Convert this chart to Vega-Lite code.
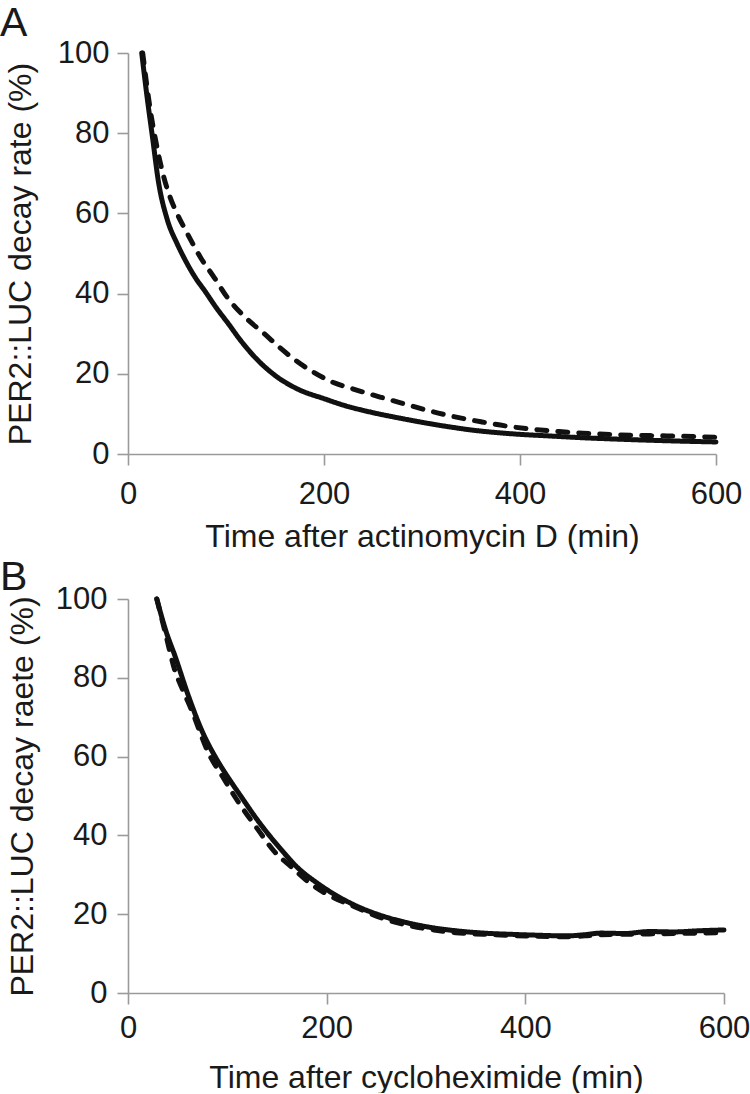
{
  "$schema": "https://vega.github.io/schema/vega-lite/v6.json",
  "padding": {"left": 0, "top": 3, "right": 0, "bottom": 0},
  "spacing": 5,
  "config": {
    "font": "Liberation Sans",
    "view": {"stroke": null},
    "axis": {
      "grid": false,
      "labelFlush": false,
      "domainColor": "#9a9a9a",
      "tickColor": "#9a9a9a",
      "domainWidth": 1.6,
      "tickWidth": 1.6,
      "tickSize": 11,
      "labelFontSize": 31,
      "titleFontSize": 32,
      "titleFontWeight": "normal",
      "labelColor": "#1a1a1a",
      "titleColor": "#1a1a1a"
    },
    "title": {"fontWeight": "normal", "color": "#1a1a1a"}
  },
  "datasets": {
    "panelA": [
      {"series": "Series 1", "t": 14, "v": 100},
      {"series": "Series 1", "t": 20, "v": 88},
      {"series": "Series 1", "t": 25, "v": 79},
      {"series": "Series 1", "t": 31, "v": 68},
      {"series": "Series 1", "t": 40, "v": 58.5},
      {"series": "Series 1", "t": 50, "v": 52.5},
      {"series": "Series 1", "t": 57, "v": 49},
      {"series": "Series 1", "t": 70, "v": 43.5},
      {"series": "Series 1", "t": 78, "v": 40.8},
      {"series": "Series 1", "t": 90, "v": 36.5},
      {"series": "Series 1", "t": 103, "v": 32.3},
      {"series": "Series 1", "t": 114, "v": 28.6},
      {"series": "Series 1", "t": 130, "v": 24},
      {"series": "Series 1", "t": 150, "v": 19.6},
      {"series": "Series 1", "t": 173, "v": 16.2},
      {"series": "Series 1", "t": 200, "v": 13.8},
      {"series": "Series 1", "t": 225, "v": 11.8},
      {"series": "Series 1", "t": 250, "v": 10.3},
      {"series": "Series 1", "t": 276, "v": 9},
      {"series": "Series 1", "t": 300, "v": 7.9},
      {"series": "Series 1", "t": 327, "v": 6.8},
      {"series": "Series 1", "t": 350, "v": 6},
      {"series": "Series 1", "t": 378, "v": 5.3},
      {"series": "Series 1", "t": 400, "v": 4.9},
      {"series": "Series 1", "t": 430, "v": 4.5},
      {"series": "Series 1", "t": 460, "v": 4.1},
      {"series": "Series 1", "t": 500, "v": 3.7},
      {"series": "Series 1", "t": 550, "v": 3.3},
      {"series": "Series 1", "t": 600, "v": 3.0},
      {"series": "Series 2", "t": 15, "v": 100},
      {"series": "Series 2", "t": 22.6, "v": 86},
      {"series": "Series 2", "t": 30, "v": 76},
      {"series": "Series 2", "t": 36.6, "v": 69},
      {"series": "Series 2", "t": 43, "v": 64},
      {"series": "Series 2", "t": 50, "v": 60},
      {"series": "Series 2", "t": 60.5, "v": 55},
      {"series": "Series 2", "t": 74, "v": 49},
      {"series": "Series 2", "t": 88, "v": 44},
      {"series": "Series 2", "t": 101.5, "v": 39},
      {"series": "Series 2", "t": 120, "v": 34},
      {"series": "Series 2", "t": 139, "v": 30},
      {"series": "Series 2", "t": 155, "v": 26.5},
      {"series": "Series 2", "t": 173, "v": 23},
      {"series": "Series 2", "t": 190, "v": 20.3},
      {"series": "Series 2", "t": 207, "v": 18.1},
      {"series": "Series 2", "t": 230, "v": 16.2},
      {"series": "Series 2", "t": 258.7, "v": 14.1},
      {"series": "Series 2", "t": 285, "v": 12.3},
      {"series": "Series 2", "t": 310, "v": 10.6},
      {"series": "Series 2", "t": 335, "v": 9.2},
      {"series": "Series 2", "t": 361, "v": 8},
      {"series": "Series 2", "t": 385, "v": 7},
      {"series": "Series 2", "t": 412, "v": 6.2},
      {"series": "Series 2", "t": 440, "v": 5.6},
      {"series": "Series 2", "t": 464, "v": 5.2},
      {"series": "Series 2", "t": 498, "v": 4.8},
      {"series": "Series 2", "t": 550, "v": 4.5},
      {"series": "Series 2", "t": 600, "v": 4.2}
    ],
    "panelB": [
      {"series": "Series 1", "t": 29, "v": 100},
      {"series": "Series 1", "t": 38, "v": 92},
      {"series": "Series 1", "t": 47.5, "v": 85.4},
      {"series": "Series 1", "t": 60, "v": 76},
      {"series": "Series 1", "t": 74, "v": 66.8},
      {"series": "Series 1", "t": 90, "v": 59},
      {"series": "Series 1", "t": 100, "v": 55},
      {"series": "Series 1", "t": 114, "v": 49.8},
      {"series": "Series 1", "t": 130, "v": 44},
      {"series": "Series 1", "t": 154.5, "v": 36.3},
      {"series": "Series 1", "t": 170, "v": 32},
      {"series": "Series 1", "t": 191, "v": 27.8},
      {"series": "Series 1", "t": 208, "v": 25},
      {"series": "Series 1", "t": 231.5, "v": 21.9},
      {"series": "Series 1", "t": 258, "v": 19.4},
      {"series": "Series 1", "t": 285, "v": 17.6},
      {"series": "Series 1", "t": 308, "v": 16.5},
      {"series": "Series 1", "t": 330, "v": 15.8},
      {"series": "Series 1", "t": 358, "v": 15.2},
      {"series": "Series 1", "t": 385, "v": 14.9},
      {"series": "Series 1", "t": 408, "v": 14.7},
      {"series": "Series 1", "t": 442, "v": 14.5},
      {"series": "Series 1", "t": 460, "v": 14.8},
      {"series": "Series 1", "t": 476, "v": 15.2},
      {"series": "Series 1", "t": 500, "v": 15.1},
      {"series": "Series 1", "t": 525, "v": 15.6},
      {"series": "Series 1", "t": 550, "v": 15.5},
      {"series": "Series 1", "t": 575, "v": 15.8},
      {"series": "Series 1", "t": 600, "v": 16},
      {"series": "Series 2", "t": 29, "v": 100},
      {"series": "Series 2", "t": 38, "v": 91},
      {"series": "Series 2", "t": 47, "v": 82},
      {"series": "Series 2", "t": 55, "v": 77},
      {"series": "Series 2", "t": 64, "v": 71.8},
      {"series": "Series 2", "t": 81, "v": 60.9},
      {"series": "Series 2", "t": 95, "v": 55},
      {"series": "Series 2", "t": 107.6, "v": 49.8},
      {"series": "Series 2", "t": 131, "v": 41.4},
      {"series": "Series 2", "t": 147, "v": 36},
      {"series": "Series 2", "t": 164.5, "v": 32},
      {"series": "Series 2", "t": 180, "v": 28.5},
      {"series": "Series 2", "t": 198, "v": 25.4},
      {"series": "Series 2", "t": 228, "v": 21.9},
      {"series": "Series 2", "t": 258, "v": 18.8},
      {"series": "Series 2", "t": 285, "v": 17},
      {"series": "Series 2", "t": 308, "v": 16},
      {"series": "Series 2", "t": 330, "v": 15.3},
      {"series": "Series 2", "t": 358, "v": 14.9},
      {"series": "Series 2", "t": 385, "v": 14.6},
      {"series": "Series 2", "t": 408, "v": 14.4},
      {"series": "Series 2", "t": 442, "v": 14.3},
      {"series": "Series 2", "t": 460, "v": 14.5},
      {"series": "Series 2", "t": 476, "v": 14.8},
      {"series": "Series 2", "t": 500, "v": 14.9},
      {"series": "Series 2", "t": 525, "v": 15},
      {"series": "Series 2", "t": 550, "v": 15.1},
      {"series": "Series 2", "t": 575, "v": 15.2},
      {"series": "Series 2", "t": 600, "v": 15.3}
    ]
  },
  "vconcat": [
    {
      "width": 588,
      "height": 401,
      "title": {"text": "A", "anchor": "start", "frame": "group", "fontSize": 41, "dx": -128, "offset": -40, "baseline": "alphabetic"},
      "data": {"name": "panelA"},
      "mark": {"type": "line", "color": "#111111", "strokeWidth": 5, "interpolate": "monotone", "strokeCap": "round"},
      "encoding": {
        "x": {"field": "t", "type": "quantitative", "scale": {"domain": [0, 600], "nice": false},
              "axis": {"values": [0, 200, 400, 600], "title": "Time after actinomycin D (min)", "labelPadding": 14, "titlePadding": 12}},
        "y": {"field": "v", "type": "quantitative", "scale": {"domain": [0, 100], "nice": false},
              "axis": {"values": [0, 20, 40, 60, 80, 100], "title": "PER2::LUC decay rate (%)", "labelPadding": 8, "titlePadding": 20}},
        "strokeDash": {"field": "series", "type": "nominal", "scale": {"domain": ["Series 1", "Series 2"], "range": [[1, 0], [10, 11]]}, "legend": null}
      }
    },
    {
      "width": 596,
      "height": 394,
      "title": {"text": "B", "anchor": "start", "frame": "group", "fontSize": 41, "dx": -128, "offset": -48, "baseline": "alphabetic"},
      "data": {"name": "panelB"},
      "mark": {"type": "line", "color": "#111111", "strokeWidth": 5, "interpolate": "monotone", "strokeCap": "round"},
      "encoding": {
        "x": {"field": "t", "type": "quantitative", "scale": {"domain": [0, 600], "nice": false},
              "axis": {"values": [0, 200, 400, 600], "title": "Time after cycloheximide (min)", "labelPadding": 9, "titlePadding": 19}},
        "y": {"field": "v", "type": "quantitative", "scale": {"domain": [0, 100], "nice": false},
              "axis": {"values": [0, 20, 40, 60, 80, 100], "title": "PER2::LUC decay raete (%)", "labelPadding": 10, "titlePadding": 16}},
        "strokeDash": {"field": "series", "type": "nominal", "scale": {"domain": ["Series 1", "Series 2"], "range": [[1, 0], [10, 11]]}, "legend": null}
      }
    }
  ]
}
